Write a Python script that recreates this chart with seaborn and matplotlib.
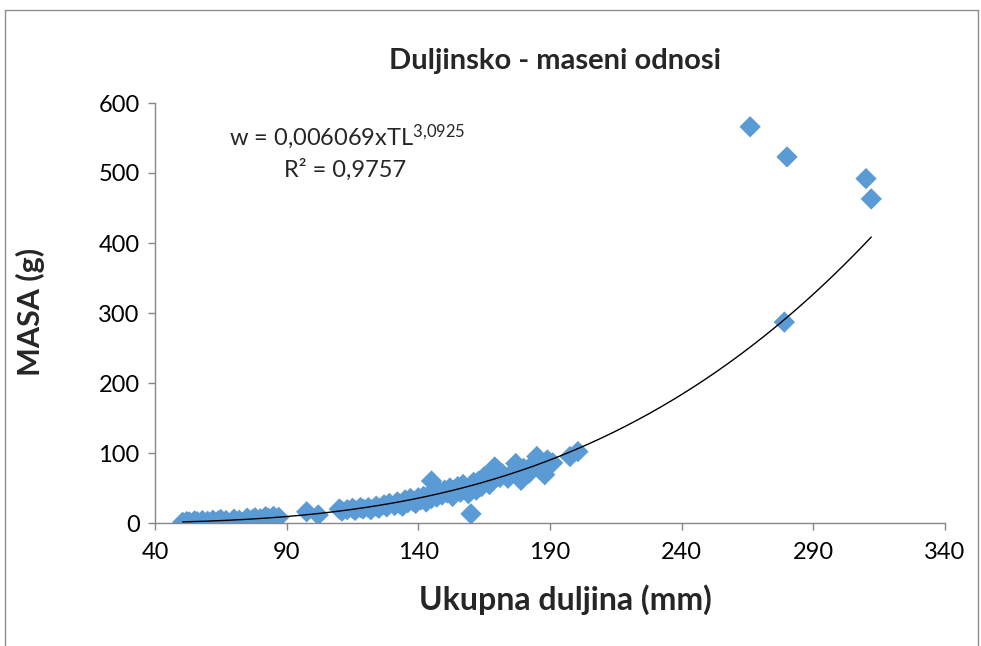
import numpy as np
import pandas as pd
import matplotlib
matplotlib.use("Agg")
import matplotlib.pyplot as plt
import seaborn as sns
from matplotlib.lines import Line2D

# ---- data ----
length_mm = [50.5, 52, 53, 55, 56, 58, 60, 62, 64, 65, 67, 70, 72, 75, 77, 78, 80, 82, 83, 85, 87,
             97.6, 102,
             110, 111, 113, 115, 116, 118, 119, 121, 122, 124, 125, 127, 128, 129, 131, 132, 133, 134,
             135, 136, 137, 138, 139, 140, 141, 142, 143, 144, 145, 145, 146, 147, 148, 149, 150, 151,
             152, 153, 154, 155, 156, 157, 158, 159, 160, 160, 161, 162, 163, 164, 165, 166, 167, 168,
             169, 170, 171, 172, 174, 175, 176, 177, 178, 179, 180, 182, 183, 185, 186, 188, 189, 191,
             197.6, 200.6,
             266, 280, 310, 312, 279]
mass_g = [1, 2, 1.5, 3, 2, 3.5, 2.5, 4, 3, 5, 3.5, 5.5, 4, 7, 5, 7.5, 6, 9, 7, 9.5, 8,
          16, 11.5,
          20, 17, 19, 21, 18, 22, 20, 22, 19, 24, 21, 26, 23, 28, 25, 30, 27, 24,
          33, 29, 35, 31, 28, 36, 33, 38, 30, 40, 60, 35, 42, 37, 45, 40, 47, 43,
          50, 38, 48, 52, 44, 55, 49, 42, 13, 53, 58, 47, 60, 52, 66, 61, 55, 72,
          80, 76, 65, 70, 64, 68, 73, 85, 66, 61, 78, 71, 82, 95, 79, 69, 90, 86,
          95, 102,
          566, 523, 492, 463, 287]

x_ticks = [40, 90, 140, 190, 240, 290, 340]
y_ticks = [0, 100, 200, 300, 400, 500, 600]

title = "Duljinsko - maseni odnosi"
x_label = "Ukupna duljina (mm)"
y_label = "MASA (g)"
eq_text = r"w = 0,006069xTL$^{\mathrm{3{,}0925}}$"
r2_text = "R² = 0,9757"

df = pd.DataFrame({"length": length_mm, "mass": mass_g})

# power trendline fitted in log space (like Excel)
b, log_a = np.polyfit(np.log(df["length"]), np.log(df["mass"]), 1)
xs = np.linspace(df["length"].min(), df["length"].max(), 300)
trend = pd.DataFrame({"length": xs, "mass": np.exp(log_a) * xs ** b})

# ---- style ----
sns.set_theme(style="white")
plt.rcParams["font.family"] = ["Lato", "DejaVu Sans"]
plt.rcParams["mathtext.fontset"] = "custom"
plt.rcParams["mathtext.rm"] = "Lato"
plt.rcParams["mathtext.it"] = "Lato:italic"
plt.rcParams["mathtext.bf"] = "Lato:bold"

blue = "#5B9BD5"
axis_gray = "#868686"

fig = plt.figure(figsize=(9.81, 6.46), dpi=100)
ax = fig.add_axes([155 / 981, 1 - 523 / 646, (945 - 155) / 981, (523 - 103) / 646])

sns.scatterplot(data=df, x="length", y="mass", ax=ax, marker="D", s=118,
                color=blue, edgecolor="none", linewidth=0, zorder=2, legend=False)
sns.lineplot(data=trend, x="length", y="mass", ax=ax, color="black", linewidth=1.0,
             zorder=3, legend=False)

ax.set_xlim(40, 340)
ax.set_ylim(0, 600)
ax.set_xticks(x_ticks)
ax.set_yticks(y_ticks)
ax.set_xticklabels([str(t) for t in x_ticks])
ax.set_yticklabels([str(t) for t in y_ticks])
ax.tick_params(axis="both", labelsize=17, labelcolor="black", color=axis_gray,
               length=5, width=1, direction="out", bottom=True, left=True)
ax.xaxis.set_tick_params(pad=9)
ax.yaxis.set_tick_params(pad=6)

for s in ["top", "right"]:
    ax.spines[s].set_visible(False)
for s in ["left", "bottom"]:
    ax.spines[s].set_color(axis_gray)
    ax.spines[s].set_linewidth(1)
ax.grid(False)
ax.set_facecolor("white")

ax.set_xlabel(x_label, fontsize=23, fontweight="bold")
ax.set_ylabel(y_label, fontsize=22, fontweight="bold")
ax.xaxis.label.set_va("center")
ax.yaxis.label.set_va("center")
ax.xaxis.set_label_coords((565 - 155) / 790, (523 - 600) / 420)
ax.yaxis.set_label_coords((30 - 155) / 790, (523 - 312) / 420)

fig.text(555 / 981, 1 - 61 / 646, title, fontsize=21, fontweight="bold",
         ha="center", va="center")

ax.text((347 - 155) / 790, (523 - 137) / 420, eq_text, transform=ax.transAxes,
        fontsize=17, ha="center", va="center")
ax.text((345 - 155) / 790, (523 - 170) / 420, r2_text, transform=ax.transAxes,
        fontsize=17, ha="center", va="center")

# chart area border
for (x0, y0, x1, y1) in [(5, 10, 978, 10), (5, 10, 5, 646), (978, 10, 978, 646)]:
    fig.add_artist(Line2D([x0 / 981, x1 / 981], [1 - y0 / 646, 1 - y1 / 646],
                          transform=fig.transFigure, color="#8c8c8c", linewidth=1))

fig.savefig("out.png", dpi=100, facecolor="white")
